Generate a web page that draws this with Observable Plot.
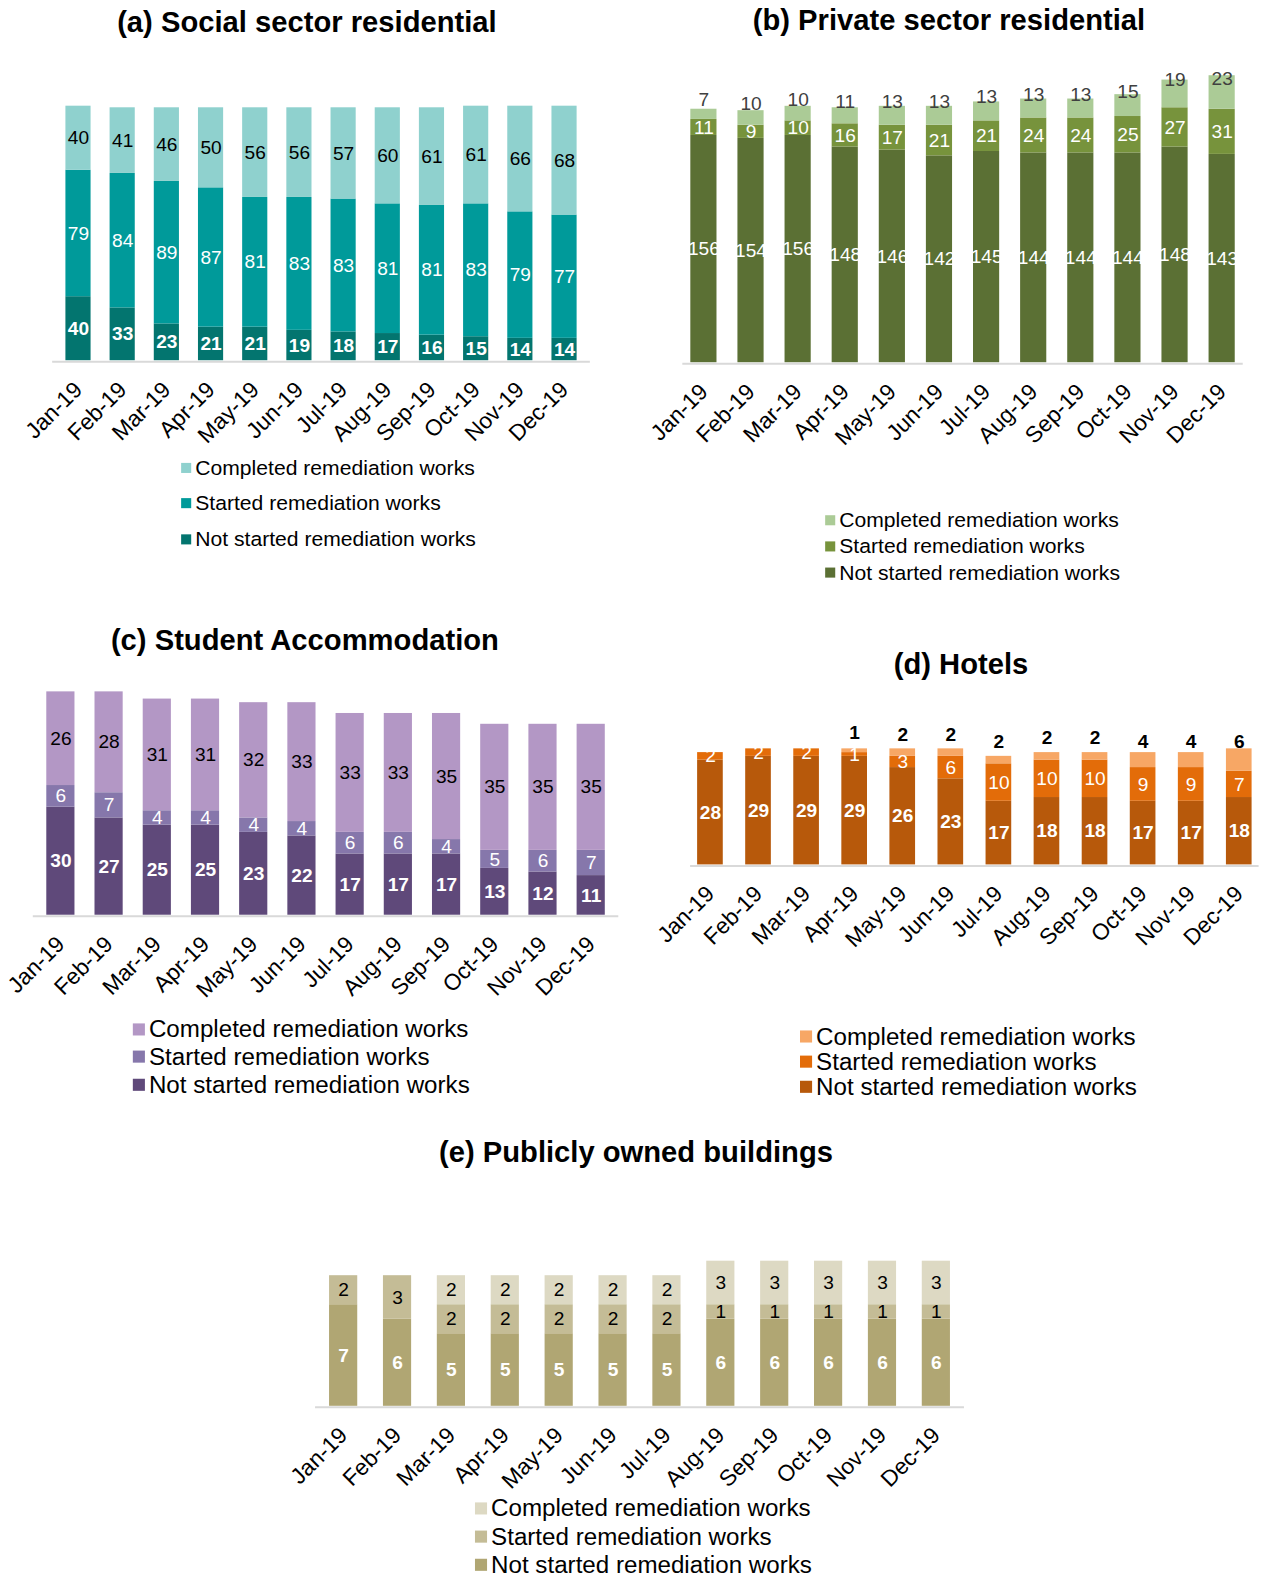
<!DOCTYPE html>
<html>
<head>
<meta charset="utf-8">
<script src="https://cdn.jsdelivr.net/npm/d3@7"></script>
<script src="https://cdn.jsdelivr.net/npm/@observablehq/plot@0.6"></script>
<style>
  html, body { margin: 0; padding: 0; overflow: hidden; width: 1263px; height: 1577px; background: #fff; }
  body { font-family: "Liberation Sans", Arial, sans-serif; }
  #root { position: relative; width: 1263px; height: 1577px; overflow: hidden; background: #fff; transform: scale(1.0063); transform-origin: 0 0; }
  .panel { position: absolute; line-height: 0; }
  .panel svg { overflow: visible; max-width: none; }
  .title { position: absolute; font-weight: bold; font-size: 29px; color: #000; transform: translate(-50%, -50%); white-space: nowrap; }
  .item { position: absolute; white-space: nowrap; transform: translateY(-50%); display: flex; align-items: center; color: #000; }
  .sw { display: inline-block; margin-right: 4px; }
</style>
</head>
<body>
<div id="root"></div>
<script>
// ---------- data ----------
const months = ["Jan-19","Feb-19","Mar-19","Apr-19","May-19","Jun-19","Jul-19","Aug-19","Sep-19","Oct-19","Nov-19","Dec-19"];
const statuses = ["Not started remediation works","Started remediation works","Completed remediation works"];
const legendOrder = ["Completed remediation works","Started remediation works","Not started remediation works"];

const socialNotStarted = [40,33,23,21,21,19,18,17,16,15,14,14];
const socialStarted    = [79,84,89,87,81,83,83,81,81,83,79,77];
const socialCompleted  = [40,41,46,50,56,56,57,60,61,61,66,68];

const privateNotStarted = [156,154,156,148,146,142,145,144,144,144,148,143];
const privateStarted    = [11,9,10,16,17,21,21,24,24,25,27,31];
const privateCompleted  = [7,10,10,11,13,13,13,13,13,15,19,23];

const studentNotStarted = [30,27,25,25,23,22,17,17,17,13,12,11];
const studentStarted    = [6,7,4,4,4,4,6,6,4,5,6,7];
const studentCompleted  = [26,28,31,31,32,33,33,33,35,35,35,35];

const hotelsNotStarted = [28,29,29,29,26,23,17,18,18,17,17,18];
const hotelsStarted    = [2,2,2,1,3,6,10,10,10,9,9,7];
const hotelsCompleted  = [0,0,0,1,2,2,2,2,2,4,4,6];

const publicNotStarted = [7,6,5,5,5,5,5,6,6,6,6,6];
const publicStarted    = [2,3,2,2,2,2,2,1,1,1,1,1];
const publicCompleted  = [0,0,2,2,2,2,2,3,3,3,3,3];

// ---------- helpers ----------
function rowsOf(ns, st, co) {
  const out = [];
  months.forEach((m, i) => {
    out.push({month: m, status: statuses[0], value: ns[i]});
    out.push({month: m, status: statuses[1], value: st[i]});
    out.push({month: m, status: statuses[2], value: co[i]});
  });
  return out;
}

const root = document.getElementById("root");

function addTitle(text, cx, cy) {
  const d = document.createElement("div");
  d.className = "title";
  d.textContent = text;
  d.style.left = cx + "px";
  d.style.top = cy + "px";
  root.appendChild(d);
}

function addLegend(colors, x, ys, size, fontSize) {
  legendOrder.forEach((s, i) => {
    const it = document.createElement("div");
    it.className = "item";
    it.style.left = x + "px";
    it.style.top = ys[i] + "px";
    it.style.fontSize = fontSize + "px";
    const sw = document.createElement("span");
    sw.className = "sw";
    sw.style.width = size + "px";
    sw.style.height = size + "px";
    sw.style.background = colors[statuses.indexOf(s)];
    const tx = document.createElement("span");
    tx.textContent = s;
    it.appendChild(sw);
    it.appendChild(tx);
    root.appendChild(it);
  });
}

function makePanel(cfg) {
  const rows = rowsOf(cfg.ns, cfg.st, cfg.co);
  const step = (cfg.lastC - cfg.firstC) / 11;
  const pInner = 1 - cfg.bw / step;
  const off = step * (cfg.po + (1 - pInner) / 2);
  const r0 = cfg.firstC - off, r1 = cfg.lastC + off;
  const marginLeft = r0 - cfg.left;
  const marginRight = cfg.left + cfg.width - r1;
  const marginBottom = cfg.top + cfg.height - cfg.baseline;
  const yMax = (cfg.baseline - cfg.top - cfg.mt) / cfg.k;

  const labelMarks = cfg.labels.map((lab, si) =>
    Plot.text(rows, Plot.stackY({
      x: "month", y: "value", z: "status", order: statuses,
      text: d => (d.status === statuses[si] && d.value > 0) ? String(d.value) : null,
      fill: lab.fill, fontWeight: lab.weight, fontSize: cfg.labelSize, dy: lab.dy || 0
    }))
  );

  const chart = Plot.plot({
    width: cfg.width, height: cfg.height,
    marginLeft, marginRight, marginTop: cfg.mt, marginBottom,
    style: {fontFamily: '"Liberation Sans", Arial, sans-serif', fontSize: cfg.tickSize + "px", color: "#000", background: "transparent", overflow: "visible"},
    x: {type: "band", domain: months, paddingInner: pInner, paddingOuter: cfg.po, align: 0.5, round: false,
        tickRotate: -45, tickSize: 0, tickPadding: cfg.tickPad, label: null},
    y: {domain: [0, yMax], axis: null},
    color: {domain: statuses, range: cfg.colors},
    marks: [
      Plot.barY(rows, {x: "month", y: "value", fill: "status", z: "status", order: statuses}),
      Plot.ruleY([0], {stroke: "#d9d9d9", strokeWidth: 2, dy: 1}),
      ...labelMarks
    ]
  });
  const wrap = document.createElement("div");
  wrap.className = "panel";
  wrap.style.left = cfg.left + "px";
  wrap.style.top = cfg.top + "px";
  wrap.style.width = cfg.width + "px";
  wrap.style.height = cfg.height + "px";
  wrap.appendChild(chart);
  root.appendChild(wrap);
}

// ---------- panels ----------
const socialColors  = ["#03756f", "#009a9a", "#8fd1ce"];
const privateColors = ["#5b7034", "#77933c", "#abcb96"];
const studentColors = ["#5f497a", "#8677ab", "#b397c5"];
const hotelColors   = ["#b7590b", "#e36c09", "#f7a765"];
const publicColors  = ["#b0a673", "#c4bc96", "#ddd9c3"];

makePanel({ns: socialNotStarted, st: socialStarted, co: socialCompleted, colors: socialColors,
  left: 0, width: 631, top: 50, height: 410, firstC: 77.5, lastC: 560.5, bw: 25, po: 0.3,
  baseline: 358, k: 1.591, mt: 20, tickSize: 22.5, tickPad: 25, labelSize: 19,
  labels: [{fill: "white", weight: "bold"}, {fill: "white", weight: "normal"}, {fill: "black", weight: "normal"}]});
addTitle("(a) Social sector residential", 305, 22);
addLegend(socialColors, 180, [465, 500, 536], 10, 21);

makePanel({ns: privateNotStarted, st: privateStarted, co: privateCompleted, colors: privateColors,
  left: 631, width: 632, top: 50, height: 410, firstC: 699, lastC: 1214, bw: 26, po: 0.17,
  baseline: 360, k: 1.448, mt: 10, tickSize: 22.5, tickPad: 25, labelSize: 19,
  labels: [{fill: "white", weight: "normal"}, {fill: "white", weight: "normal"}, {fill: "#404040", weight: "normal", dy: -14}]});
addTitle("(b) Private sector residential", 943, 20);
addLegend(privateColors, 820, [517, 543, 569], 10, 21);

makePanel({ns: studentNotStarted, st: studentStarted, co: studentCompleted, colors: studentColors,
  left: 0, width: 631, top: 660, height: 350, firstC: 60, lastC: 587, bw: 28, po: 0.28,
  baseline: 909, k: 3.58, mt: 10, tickSize: 22.5, tickPad: 25, labelSize: 19,
  labels: [{fill: "white", weight: "bold"}, {fill: "white", weight: "normal"}, {fill: "black", weight: "normal"}]});
addTitle("(c) Student Accommodation", 303, 636);
addLegend(studentColors, 132, [1023, 1050, 1078], 12, 24);

makePanel({ns: hotelsNotStarted, st: hotelsStarted, co: hotelsCompleted, colors: hotelColors,
  left: 631, width: 632, top: 680, height: 330, firstC: 705.5, lastC: 1231, bw: 25.5, po: 0.146,
  baseline: 859, k: 3.72, mt: 20, tickSize: 22.5, tickPad: 25, labelSize: 19,
  labels: [{fill: "white", weight: "bold"}, {fill: "white", weight: "normal"}, {fill: "black", weight: "bold", dy: -18}]});
addTitle("(d) Hotels", 955, 660);
addLegend(hotelColors, 795, [1030, 1055, 1080], 12, 24);

makePanel({ns: publicNotStarted, st: publicStarted, co: publicCompleted, colors: publicColors,
  left: 0, width: 1263, top: 1180, height: 320, firstC: 341, lastC: 930, bw: 28, po: 0.26,
  baseline: 1397, k: 14.42, mt: 20, tickSize: 22.5, tickPad: 25, labelSize: 19,
  labels: [{fill: "white", weight: "bold"}, {fill: "black", weight: "normal"}, {fill: "black", weight: "normal"}]});
addTitle("(e) Publicly owned buildings", 632, 1145);
addLegend(publicColors, 472, [1499, 1527, 1555], 12, 24);
</script>
</body>
</html>
